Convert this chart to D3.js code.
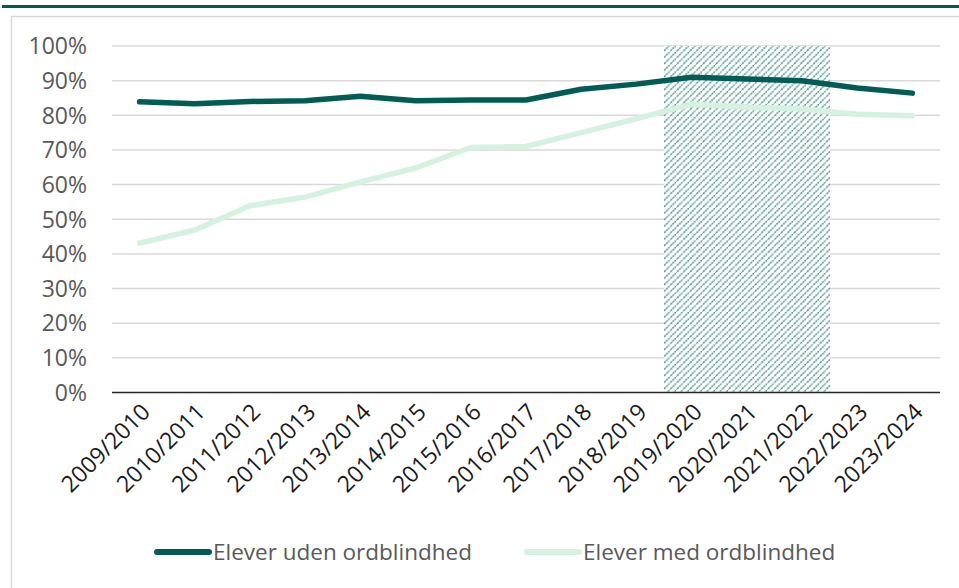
<!DOCTYPE html>
<html>
<head>
<meta charset="utf-8">
<script src="https://d3js.org/d3.v7.min.js"></script>
<style>
  body { margin: 0; background: #fff; font-family: "Open Sans", sans-serif; }
  svg { display: block; }
</style>
</head>
<body>
<script>
// skoleår
const years = ["2009/2010","2010/2011","2011/2012","2012/2013","2013/2014","2014/2015","2015/2016",
  "2016/2017","2017/2018","2018/2019","2019/2020","2020/2021","2021/2022","2022/2023","2023/2024"];
const udenOrdblindhed = [83.9, 83.3, 84.0, 84.2, 85.5, 84.2, 84.4, 84.4, 87.5, 89.0, 91.0, 90.5, 90.0, 87.9, 86.4];
const medOrdblindhed  = [43.1, 46.9, 53.9, 56.4, 60.8, 64.8, 70.7, 71.0, 75.0, 79.0, 83.2, 82.4, 81.8, 80.3, 79.9];
// skraverede år (corona)
const shaded = ["2019/2020","2020/2021","2021/2022"];
const yTicks = [0,10,20,30,40,50,60,70,80,90,100];
const seriesNames = ["Elever uden ordblindhed","Elever med ordblindhed"];
const colors = ["#005c55","#d5f2e1"];

const W = 959, H = 588;
const svg = d3.select("body").append("svg").attr("width", W).attr("height", H);

// top bar + frame
svg.append("rect").attr("x", 2).attr("y", 5).attr("width", W).attr("height", 3).attr("fill", "#005a55");
svg.append("rect").attr("x", 11.5).attr("y", 16.5).attr("width", W + 20).attr("height", H)
  .attr("fill", "none").attr("stroke", "#d9d9d9").attr("stroke-width", 1.5);

const x = d3.scaleBand().domain(years).range([112, 940]).paddingInner(0).paddingOuter(0);
const y = d3.scaleLinear().domain([0, 100]).range([392.5, 46]);
const cx = d => x(d) + x.bandwidth() / 2;

// gridlines
svg.append("g").selectAll("line").data(yTicks.filter(t => t > 0)).join("line")
  .attr("x1", 112).attr("x2", 940).attr("y1", d => y(d)).attr("y2", d => y(d))
  .attr("stroke", "#d9d9d9").attr("stroke-width", 1.5);

// hatch pattern
const defs = svg.append("defs");
const pat = defs.append("pattern").attr("id", "hatch").attr("patternUnits", "userSpaceOnUse")
  .attr("width", 6.5).attr("height", 6.5);
pat.append("rect").attr("width", 6.5).attr("height", 6.5).attr("fill", "#fff");
pat.append("path").attr("d", "M-1,7.5 L7.5,-1 M-4,3.25 L3.25,-4 M3.25,10.5 L10.5,3.25")
  .attr("stroke", "#55998f").attr("stroke-width", 1.5).attr("stroke-dasharray", "2.2,0.7");

svg.append("g").selectAll("rect").data(shaded).join("rect")
  .attr("x", d => x(d)).attr("width", x.bandwidth() + 0.5)
  .attr("y", y(100)).attr("height", y(0) - y(100))
  .attr("fill", "url(#hatch)");

// axis line
svg.append("line").attr("x1", 112).attr("x2", 940).attr("y1", y(0)).attr("y2", y(0))
  .attr("stroke", "#262626").attr("stroke-width", 1.5);

// y labels
svg.append("g").selectAll("text").data(yTicks).join("text")
  .attr("x", 87).attr("y", d => y(d)).attr("dy", "0.36em")
  .attr("text-anchor", "end").attr("font-size", 23).attr("fill", "#595959")
  .text(d => d + "%");

// x labels
svg.append("g").selectAll("text").data(years).join("text")
  .attr("transform", d => `translate(${cx(d) + 6},${y(0) + 15}) rotate(-45)`)
  .attr("text-anchor", "end").attr("dy", "0.36em")
  .attr("font-size", 23).attr("fill", "#1a1a1a")
  .text(d => d);

// lines
const line = d3.line().x((d, i) => cx(years[i])).y(d => y(d));
[udenOrdblindhed, medOrdblindhed].forEach((s, k) => {
  svg.append("path").datum(s).attr("d", line)
    .attr("fill", "none").attr("stroke", colors[k]).attr("stroke-width", 5.5)
    .attr("stroke-linejoin", "round").attr("stroke-linecap", "round");
});

// legend
const legX = [155, 525];
seriesNames.forEach((n, k) => {
  const g = svg.append("g").attr("transform", `translate(${legX[k]},552)`);
  g.append("line").attr("x1", 2).attr("x2", 54).attr("stroke", colors[k])
    .attr("stroke-width", 6).attr("stroke-linecap", "round");
  g.append("text").attr("x", 58).attr("dy", "0.36em").attr("font-size", 22.5)
    .attr("fill", "#595959").text(n);
});
</script>
</body>
</html>
